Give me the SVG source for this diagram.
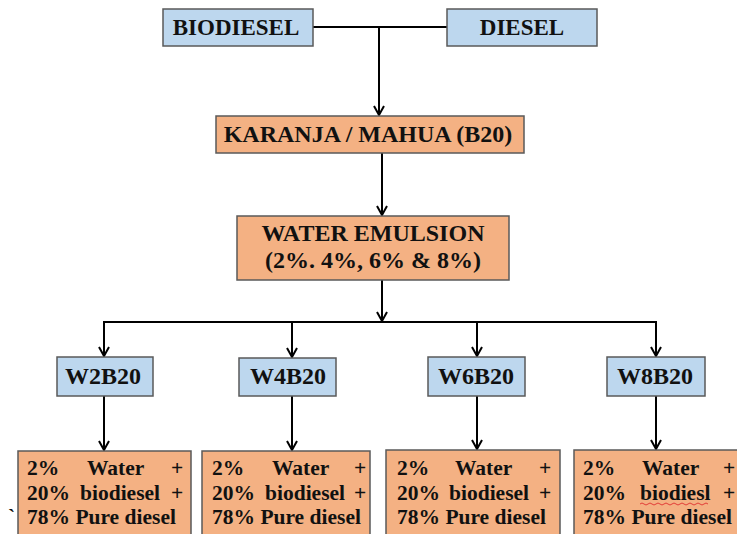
<svg xmlns="http://www.w3.org/2000/svg" width="737" height="534" viewBox="0 0 737 534">
<defs>
<marker id="ah" markerWidth="12" markerHeight="12" refX="10" refY="6" orient="auto-start-reverse" markerUnits="userSpaceOnUse" viewBox="0 0 12 12">
<path d="M1,1 L10,6 L1,11" fill="none" stroke="#000" stroke-width="2"/>
</marker>
<style>
.blue{fill:#BDD7EE;stroke:#5a5a5a;stroke-width:1.5}
.org{fill:#F4B183;stroke:#5a5a5a;stroke-width:1.5}
.t{font-family:"Liberation Serif","Times New Roman",serif;font-weight:bold;fill:#111}
.big{font-size:23px}
.mid{font-size:24px}
.sm{font-size:21.5px}
.c{stroke:#000;stroke-width:2;fill:none}
</style>
</defs>
<rect width="737" height="534" fill="#fff"/>
<g id="connectors">
<path class="c" d="M313,27 H447"/>
<path class="c" d="M379,27 V115" marker-end="url(#ah)"/>
<path class="c" d="M382,153 V215" marker-end="url(#ah)"/>
<path class="c" d="M382,280 V321" marker-end="url(#ah)"/>
<path class="c" d="M104,356 V322 H656 V356" marker-start="url(#ah)" marker-end="url(#ah)"/>
<path class="c" d="M292,322 V357" marker-end="url(#ah)"/>
<path class="c" d="M477,322 V356" marker-end="url(#ah)"/>
<path class="c" d="M104,396 V450" marker-end="url(#ah)"/>
<path class="c" d="M292,396 V450" marker-end="url(#ah)"/>
<path class="c" d="M477,396 V449" marker-end="url(#ah)"/>
<path class="c" d="M656,396 V449" marker-end="url(#ah)"/>
</g>
<g id="biodiesel"><rect class="blue" x="163" y="9" width="150" height="37"/><text class="t big" x="236" y="35" text-anchor="middle">BIODIESEL</text></g>
<g id="diesel"><rect class="blue" x="447" y="9" width="150" height="37"/><text class="t big" x="522" y="35" text-anchor="middle">DIESEL</text></g>
<g id="karanja"><rect class="org" x="216" y="116" width="308" height="37"/><text class="t mid" x="368" y="142" text-anchor="middle">KARANJA / MAHUA (B20)</text></g>
<g id="emulsion"><rect class="org" x="237" y="216" width="272" height="64"/><text class="t mid" x="373" y="241" text-anchor="middle">WATER EMULSION</text><text class="t mid" x="373" y="268" text-anchor="middle">(2%. 4%, 6% &amp; 8%)</text></g>
<g id="w2b20"><rect class="blue" x="57" y="357" width="96" height="39"/><text class="t mid" x="103" y="384" text-anchor="middle">W2B20</text></g>
<g id="w4b20"><rect class="blue" x="239" y="358" width="97" height="38"/><text class="t mid" x="288" y="384" text-anchor="middle">W4B20</text></g>
<g id="w6b20"><rect class="blue" x="428" y="357" width="97" height="39"/><text class="t mid" x="476" y="384" text-anchor="middle">W6B20</text></g>
<g id="w8b20"><rect class="blue" x="607" y="357" width="98" height="39"/><text class="t mid" x="655" y="384" text-anchor="middle">W8B20</text></g>
<g id="mix1"><rect class="org" x="18" y="451" width="173" height="90"/>
<text class="t sm" x="27" y="475">2%</text><text class="t sm" x="87" y="475">Water</text><text class="t sm" x="171" y="475">+</text>
<text class="t sm" x="27" y="500">20%</text><text class="t sm" x="80" y="500">biodiesel</text><text class="t sm" x="171" y="500">+</text>
<text class="t sm" x="27" y="524">78% Pure diesel</text></g>
<g id="mix2"><rect class="org" x="202" y="451" width="168" height="90"/>
<text class="t sm" x="212" y="475">2%</text><text class="t sm" x="272" y="475">Water</text><text class="t sm" x="354" y="475">+</text>
<text class="t sm" x="212" y="500">20%</text><text class="t sm" x="265" y="500">biodiesel</text><text class="t sm" x="354" y="500">+</text>
<text class="t sm" x="212" y="524">78% Pure diesel</text></g>
<g id="mix3"><rect class="org" x="386" y="450" width="174" height="90"/>
<text class="t sm" x="397" y="475">2%</text><text class="t sm" x="455" y="475">Water</text><text class="t sm" x="539" y="475">+</text>
<text class="t sm" x="397" y="500">20%</text><text class="t sm" x="449" y="500">biodiesel</text><text class="t sm" x="539" y="500">+</text>
<text class="t sm" x="397" y="524">78% Pure diesel</text></g>
<g id="mix4"><rect class="org" x="574" y="450" width="170" height="90"/>
<text class="t sm" x="583" y="475">2%</text><text class="t sm" x="642" y="475">Water</text><text class="t sm" x="723" y="475">+</text>
<text class="t sm" x="583" y="500">20%</text><text class="t sm" x="640" y="500">biodiesl</text><text class="t sm" x="723" y="500">+</text>
<path d="M640,504 q2,-2 4,0 t4,0 t4,0 t4,0 t4,0 t4,0 t4,0 t4,0 t4,0 t4,0 t4,0 t4,0 t4,0 t4,0 t4,0 t4,0 t4,0" fill="none" stroke="#e03030" stroke-width="0.9"/>
<text class="t sm" x="583" y="524">78% Pure diesel</text></g>
<text class="t sm" x="8" y="524" font-weight="normal">`</text>
</svg>
